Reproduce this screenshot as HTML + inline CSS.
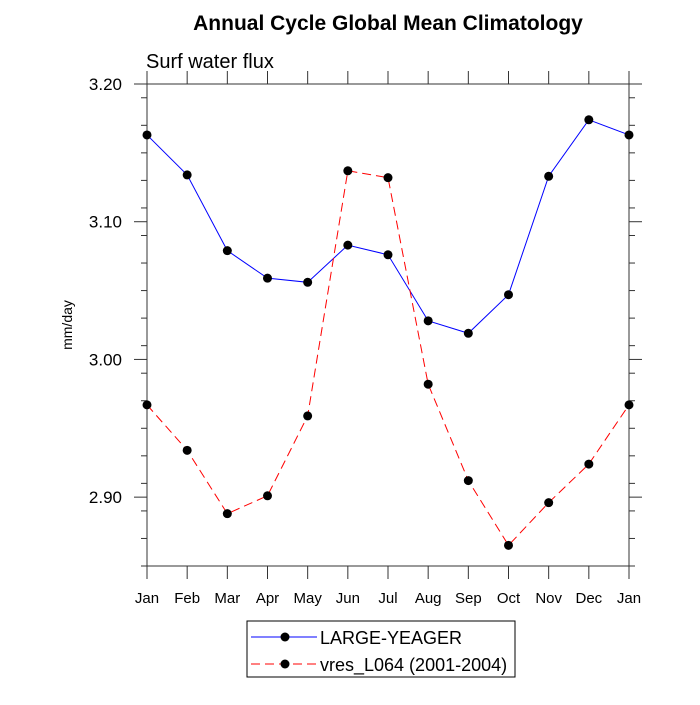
<!DOCTYPE html>
<html><head><meta charset="utf-8"><style>
body{margin:0;background:#fff;}
svg text{font-family:"Liberation Sans",sans-serif;}
</style></head><body>
<svg id="chart" width="700" height="700" xmlns="http://www.w3.org/2000/svg">
<text x="388" y="30" text-anchor="middle" font-size="21" font-weight="bold">Annual Cycle Global Mean Climatology</text>
<text x="146" y="68" font-size="20">Surf water flux</text>
<text transform="translate(72,325) rotate(-90)" text-anchor="middle" font-size="14">mm/day</text>
<g id="axes"></g>
<g id="series"></g>
<g>
<rect x="247" y="621" width="268" height="56" fill="#fff" stroke="#000" stroke-width="1"/>
<line x1="251" y1="637" x2="317" y2="637" stroke="#0000ff" stroke-width="1"/>
<circle cx="285" cy="637" r="4.5" fill="#000"/>
<text x="320" y="644" font-size="18">LARGE-YEAGER</text>
<line x1="251" y1="664" x2="317" y2="664" stroke="#ff0000" stroke-width="1" stroke-dasharray="9,5"/>
<circle cx="285" cy="664" r="4.5" fill="#000"/>
<text x="320" y="671" font-size="18">vres_L064 (2001-2004)</text>
</g>
</svg>
<script>
const months = ["Jan","Feb","Mar","Apr","May","Jun","Jul","Aug","Sep","Oct","Nov","Dec","Jan"];
const largeYeager = [3.163,3.134,3.079,3.059,3.056,3.083,3.076,3.028,3.019,3.047,3.133,3.174,3.163];
const vres = [2.967,2.934,2.888,2.901,2.959,3.137,3.132,2.982,2.912,2.865,2.896,2.924,2.967];
const yTicks = [2.90,3.00,3.10,3.20];
const yTickLabels = ["2.90","3.00","3.10","3.20"];
const yMin = 2.85, yMax = 3.20;

const L=147,R=629,T=84,B=566;
const NS="http://www.w3.org/2000/svg";
function xs(i){return L+(R-L)*i/(months.length-1);}
function ys(v){return B-(v-yMin)/(yMax-yMin)*(B-T);}
function mk(tag,attrs,parent){const e=document.createElementNS(NS,tag);for(const k in attrs)e.setAttribute(k,attrs[k]);parent.appendChild(e);return e;}
const axes=document.getElementById('axes'), ser=document.getElementById('series');
const tc='#333';
let f=mk('rect',{x:L,y:T,width:R-L,height:B-T,fill:'none',stroke:tc,'stroke-width':1},axes);


months.forEach((m,i)=>{
  const x=xs(i);
  mk('line',{x1:x,y1:B,x2:x,y2:B+13,stroke:tc},axes);
  mk('line',{x1:x,y1:T,x2:x,y2:T-13,stroke:tc},axes);
  const t=mk('text',{x:x,y:B+37,'text-anchor':'middle','font-size':15},axes);
  t.textContent=m;
  
  
});
for(let v=yMin;v<=yMax+1e-9;v+=0.02){
  const y=ys(v);
  mk('line',{x1:L,y1:y,x2:L-6,y2:y,stroke:tc},axes);
  mk('line',{x1:R,y1:y,x2:R+6,y2:y,stroke:tc},axes);
}
yTicks.forEach((v,i)=>{
  const y=ys(v);
  mk('line',{x1:L,y1:y,x2:L-13,y2:y,stroke:tc},axes);
  mk('line',{x1:R,y1:y,x2:R+13,y2:y,stroke:tc},axes);
  const t=mk('text',{x:L-25,y:y+6,'text-anchor':'end','font-size':17},axes);
  t.textContent=yTickLabels[i];
  
  
});
function draw(data,color,dash,name){
  const p=mk('polyline',{points:data.map((v,i)=>xs(i)+','+ys(v)).join(' '),fill:'none',stroke:color,'stroke-width':1},ser);
  if(dash)p.setAttribute('stroke-dasharray',dash);
  
  
  data.forEach((v,i)=>{
    const c=mk('circle',{cx:xs(i),cy:ys(v),r:4.5,fill:'#000'},ser);
    
    
  });
}
draw(largeYeager,'#0000ff',null,'large-yeager');
draw(vres,'#ff0000','9,5','vres');
</script>
</body></html>
